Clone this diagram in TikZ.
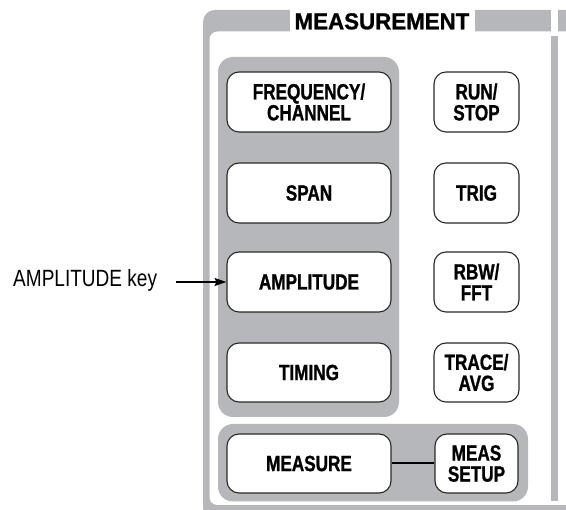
\documentclass[tikz,border=0pt]{standalone}
\usepackage{fontspec}
\setmainfont{Liberation Sans}
\newfontfamily\condfont{Liberation Sans}[FakeStretch=0.78, FakeBold=1]
\newfontfamily\titlefont{Liberation Sans}[FakeStretch=0.97, FakeBold=1]
\newfontfamily\labelfont{Liberation Sans}[FakeStretch=0.81]
\usetikzlibrary{arrows.meta}
\definecolor{panelgray}{RGB}{181,183,186}
\definecolor{keyedge}{RGB}{40,40,40}
\tikzset{
  key/.style={draw=keyedge, line width=1.1pt, fill=white, rounded corners=12pt,
    inner sep=0pt, align=center, text=black,
    font={\condfont\bfseries\fontsize{22}{21}\selectfont}},
  widekey/.style={key, minimum width=164pt, minimum height=60pt},
  smallkey/.style={key, minimum width=85pt, minimum height=60pt},
  group/.style={fill=panelgray, rounded corners=15pt},
  callout/.style={-{Stealth[length=12pt,width=8pt,inset=2pt]}, line width=1.3pt},
}
\begin{document}
\begin{tikzpicture}[x=1pt,y=-1pt]
\useasboundingbox (0,0) rectangle (566,510);
\begin{scope}
\clip (0,0) rectangle (566,510);
% outer frame
\fill[panelgray, rounded corners=12pt] (203,10) rectangle (620,520);
\fill[white, rounded corners=8pt] (209.5,31.5) rectangle (615,505);
\fill[white] (290,8) rectangle (475,32);
\fill[white] (551,8) rectangle (558,36);
\fill[panelgray] (551,36) rectangle (558,501.5);
% groups
\fill[group] (218,57) rectangle (399,417);
\fill[group] (218,424) rectangle (528,501.5);
\end{scope}
\node[anchor=base, inner sep=0pt, font={\titlefont\bfseries\fontsize{23}{23}\selectfont}] (title) at (382,29.3) {MEASUREMENT};
% keys
\node[widekey] (freq) at (309,102) {FREQUENCY/\\CHANNEL};
\node[widekey] (span) at (309,193) {SPAN};
\node[widekey] (amp)  at (309,282) {AMPLITUDE};
\node[widekey, minimum height=59pt] (timing) at (309,372.5) {TIMING};
\node[widekey, minimum height=59pt] (meas) at (309,463.5) {MEASURE};
\node[smallkey] (run)   at (476.5,102) {RUN/\\STOP};
\node[smallkey] (trig)  at (476.5,193) {TRIG};
\node[smallkey] (rbw)   at (476.5,282) {RBW/\\FFT};
\node[smallkey, minimum height=59pt] (trace) at (476.5,372.5) {TRACE/\\AVG};
\node[smallkey, minimum width=83pt, minimum height=59pt] (setup) at (476.5,463.5) {MEAS\\SETUP};
\draw[line width=2pt] (meas.east) -- (setup.west);
% callout
\node[anchor=base west, inner sep=0pt, font={\labelfont\fontsize{23.5}{23.5}\selectfont}] (lbl) at (13,286.5) {AMPLITUDE key};
\draw[callout, shorten <=19pt] (lbl.east |- amp.west) -- (amp.west);
\end{tikzpicture}
\end{document}
